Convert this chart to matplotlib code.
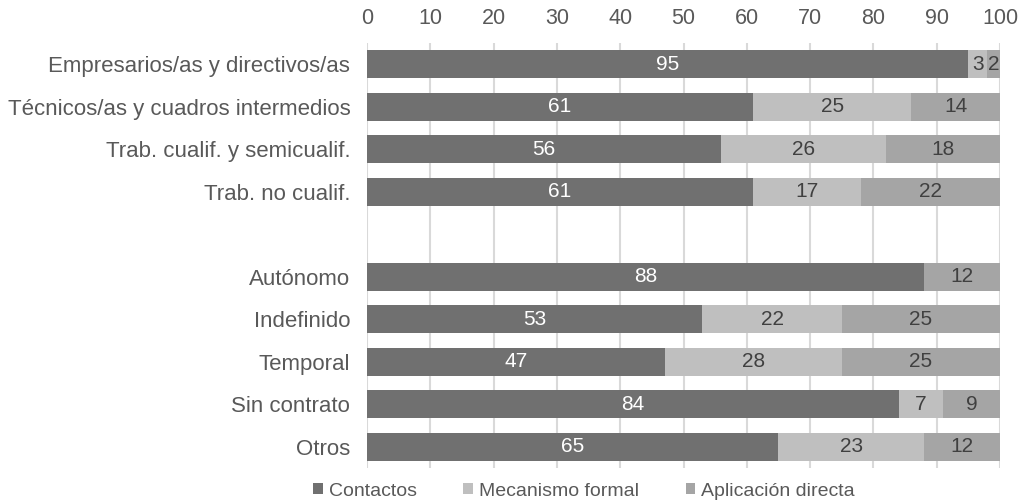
import matplotlib.pyplot as plt
import numpy as np

plt.rcParams['font.family'] = ['Liberation Sans', 'DejaVu Sans']

# categories, "" is the empty gap row
categories = ["Empresarios/as y directivos/as", "Técnicos/as y cuadros intermedios",
              "Trab. cualif. y semicualif.", "Trab. no cualif.", "",
              "Autónomo", "Indefinido", "Temporal", "Sin contrato", "Otros"]
contactos = [95, 61, 56, 61, 0, 88, 53, 47, 84, 65]
mecanismo = [3, 25, 26, 17, 0, 0, 22, 28, 7, 23]
aplicacion = [2, 14, 18, 22, 0, 12, 25, 25, 9, 12]
series_names = ["Contactos", "Mecanismo formal", "Aplicación directa"]
colors = ["#707070", "#bfbfbf", "#a5a5a5"]
label_colors = ["white", "#404040", "#404040"]

fig = plt.figure(figsize=(10.22, 5.01), dpi=100)
ax = fig.add_axes([367/1022, 1-468/501, (1000-367)/1022, (468-43)/501])

y = np.arange(len(categories))
left = np.zeros(len(categories))
for vals, name, col, lc in zip([contactos, mecanismo, aplicacion], series_names, colors, label_colors):
    vals = np.array(vals, dtype=float)
    bars = ax.barh(y, vals, left=left, height=0.66, color=col, label=name, zorder=2)
    for yi, v, l in zip(y, vals, left):
        if v > 0:
            ax.text(l + v/2, yi, f"{int(v)}", ha='center', va='center',
                    color=lc, fontsize=15, zorder=3)
    left += vals

ax.set_xlim(0, 100)
ax.set_ylim(len(categories) - 0.5, -0.5)
ax.set_xticks(range(0, 101, 10))
ax.xaxis.tick_top()
ax.tick_params(axis='x', length=0, pad=10, labelsize=15.5, labelcolor='#595959')
ax.set_yticks(y)
ax.set_yticklabels(categories)
ax.tick_params(axis='y', length=0, pad=12, labelsize=16, labelcolor='#595959')
ax.grid(axis='x', color='#d9d9d9', linewidth=1.5, zorder=0)
for s in ax.spines.values():
    s.set_visible(False)

fig.legend(loc='center', bbox_to_anchor=(584/1022, 1-491/501), ncol=3, frameon=False,
           fontsize=14, labelcolor='#595959', handlelength=0.5, handleheight=0.5,
           handletextpad=0.3, columnspacing=2.4, borderaxespad=0)

fig.savefig("out.png", dpi=100)
